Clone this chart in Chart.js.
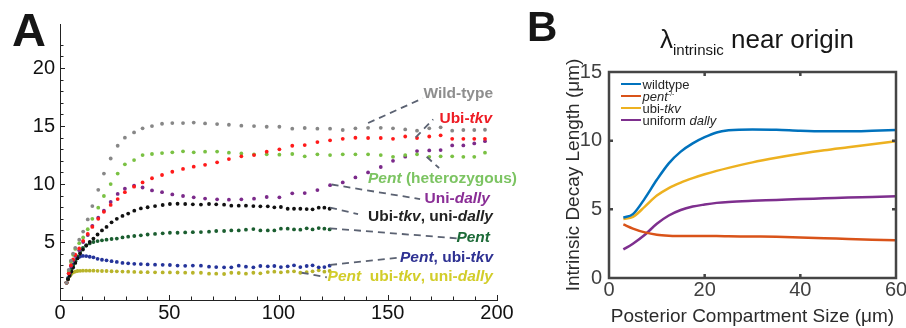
<!DOCTYPE html>
<html>
<head>
<meta charset="utf-8">
<script src="https://cdn.jsdelivr.net/npm/chart.js@4.4.1/dist/chart.umd.min.js"></script>
<style>
  html, body { margin: 0; padding: 0; background: #fff; }
  body { width: 906px; height: 328px; position: relative; overflow: hidden;
         font-family: "Liberation Sans", Arial, sans-serif; }
  #wrapA { position: absolute; left: 0; top: 0; width: 520px; height: 328px; }
  #wrapB { position: absolute; left: 530px; top: 0; width: 376px; height: 328px; }
  .panel { position: absolute; font-weight: bold; color: #161616; }
  .lbl { position: absolute; font-weight: bold; font-size: 15.5px; line-height: 15.5px; white-space: nowrap; }
  #titleB { position: absolute; left: 660px; top: 26px; font-size: 26px; line-height: 26px; color: #161616; white-space: nowrap; }
  #titleB .sub { font-size: 15px; position: relative; top: 7px; }
  #legendB { position: absolute; left: 621px; top: 78px; font-size: 13px; color: #262626; }
  #legendB .row { height: 12px; display: flex; align-items: center; white-space: nowrap; }
  #legendB .sw { width: 20px; height: 2.5px; margin-right: 1.5px; }
  #legendB sup { font-size: 7px; vertical-align: 5px; }
</style>
</head>
<body>
<div id="wrapA"><canvas id="chartA" width="520" height="328"></canvas></div>
<div id="wrapB"><canvas id="chartB" width="376" height="328"></canvas></div>

<div class="panel" style="left:12px; top:6px; font-size:47px; line-height:47px;">A</div>
<div class="panel" style="left:527px; top:6px; font-size:42px; line-height:42px;">B</div>

<div class="lbl" style="right:413px; top:85px; color:#8e8e8e;">Wild-type</div>
<div class="lbl" style="right:414px; top:110px; color:#ee1c24;">Ubi-<i>tkv</i></div>
<div class="lbl" style="left:368px; top:170px; color:#7cc462;"><i>Pent</i> (heterozygous)</div>
<div class="lbl" style="right:416px; top:190px; color:#8a2e96;">Uni-<i>dally</i></div>
<div class="lbl" style="right:413px; top:208px; color:#222;">Ubi-<i>tkv</i>, uni-<i>dally</i></div>
<div class="lbl" style="right:416px; top:229px; color:#1d6b38;"><i>Pent</i></div>
<div class="lbl" style="right:413px; top:249px; color:#2e3192;"><i>Pent</i>, ubi-<i>tkv</i></div>
<div class="lbl" style="right:413px; top:268px; color:#d2cd2a;"><i>Pent</i>&nbsp; ubi-<i>tkv</i>, uni-<i>dally</i></div>

<div id="titleB">λ<span class="sub">intrinsic</span> near origin</div>
<div id="legendB"></div>

<script>
// ---- panel A: decay length vs compartment size (dots) ----
const xA = [3, 4, 5, 6, 7, 8.8, 10.6, 12.7, 14.8, 17.5, 20.1, 23.2, 26.4, 29.7, 33.9, 37.8, 42.1, 46.7,
  51.4, 56.3, 61.2, 66.4, 71.9, 77.3, 83, 88.8, 94.6, 100.4, 106.3, 112, 117.8, 123.6, 129.4, 135.2,
  141, 146.8, 152.4, 158, 163.4, 169, 174.2, 179.5, 184.6, 189.6, 194.5];
const wildType = [1.5, 2.6, 3.4, 4.0, 4.5, 5.2, 5.9, 6.95, 8.1, 9.5, 10.9, 12.2, 13.3, 14.0, 14.45, 14.8,
  15.0, 15.2, 15.26, 15.26, 15.3, 15.23, 15.17, 15.11, 15.03, 15.0, 14.94, 14.94, 14.77, 14.83, 14.77,
  14.77, 14.66, 14.8, 14.85, 14.85, 14.8, 14.71, 14.6, 14.8, 14.89, 14.6, 14.66, 14.66, 14.68];
const ubiTkv = [1.5, 2.3, 3.0, 3.5, 3.9, 4.45, 5.1, 5.7, 6.3, 7.0, 7.6, 8.2, 8.7, 9.3, 9.77, 10.14,
  10.5, 10.78, 11.06, 11.3, 11.5, 11.66, 11.87, 12.15, 12.39, 12.5, 12.79, 12.99, 13.3, 13.36, 13.62,
  13.77, 13.9, 13.99, 13.97, 13.97, 13.9, 14.1, 13.97, 14.1, 14.2, 13.9, 13.9, 13.9, 13.9];
const pentHet = [1.5, 2.5, 3.3, 3.9, 4.4, 4.9, 5.4, 6.1, 7.0, 7.96, 8.97, 10.0, 10.9, 11.7, 12.07, 12.5,
  12.59, 12.67, 12.73, 12.82, 12.73, 12.79, 12.8, 12.7, 12.64, 12.56, 12.56, 12.53, 12.59, 12.39, 12.56,
  12.5, 12.56, 12.56, 12.56, 12.5, 12.35, 12.5, 12.56, 12.35, 12.39, 12.39, 12.35, 12.35, 12.7];
const uniDally = [1.5, 2.3, 2.9, 3.4, 3.8, 4.3, 5.0, 5.6, 6.4, 7.1, 7.7, 8.45, 9.15, 9.6, 9.85, 9.7,
  9.45, 9.3, 9.1, 8.97, 8.85, 8.75, 8.68, 8.65, 8.68, 8.74, 8.88, 8.85, 9.2, 9.22, 9.48, 9.9, 10.14,
  10.57, 11.0, 11.47, 12.0, 12.36, 12.84, 12.9, 12.93, 13.33, 13.33, 13.5, 13.7];

const xB = [3, 3.7, 4.4, 5.2, 6, 7, 8, 9.2, 10.5, 12, 13.6, 15.3, 17.2, 19.2, 21.3, 23.6, 26, 28.6,
  31.2, 34, 37, 40.1, 43.5, 47, 50.3, 53.8, 57.3, 60.8, 64.5, 68.2, 71.5, 75.1, 78.4, 81.8, 85.1, 88.5,
  91.7, 95.1, 98.1, 101.1, 104.2, 107.1, 110, 112.9, 115.6, 118.4, 121, 123.4];
const tkvDally = [1.5, 1.8, 2.1, 2.45, 2.8, 3.2, 3.6, 4.0, 4.35, 4.7, 5.0, 5.3, 5.65, 6.0, 6.3, 6.7,
  7.0, 7.25, 7.45, 7.7, 7.9, 8.0, 8.1, 8.19, 8.28, 8.3, 8.28, 8.25, 8.23, 8.28, 8.25, 8.22, 8.13, 8.13,
  8.13, 8.1, 8.08, 8.08, 7.99, 8.02, 7.87, 7.87, 7.87, 7.84, 7.82, 7.96, 7.96, 7.87];
const pent = [1.5, 1.85, 2.2, 2.6, 2.95, 3.35, 3.75, 4.15, 4.5, 4.7, 4.88, 5.0, 5.08, 5.15, 5.2, 5.26,
  5.3, 5.4, 5.46, 5.52, 5.58, 5.65, 5.7, 5.75, 5.8, 5.8, 5.83, 5.85, 5.86, 5.89, 5.95, 5.95, 6.0, 6.0,
  6.06, 6.12, 6.0, 6.0, 6.0, 6.15, 6.15, 6.09, 6.06, 6.18, 6.09, 6.2, 6.15, 6.09];
const pentTkv = [1.5, 1.9, 2.3, 2.7, 3.05, 3.35, 3.6, 3.75, 3.8, 3.79, 3.73, 3.68, 3.55, 3.47, 3.42,
  3.35, 3.28, 3.2, 3.16, 3.12, 3.1, 3.07, 3.05, 3.03, 3.02, 2.97, 2.95, 2.97, 2.96, 2.87, 2.84, 2.82,
  2.82, 2.96, 2.87, 2.82, 2.93, 2.9, 2.93, 2.84, 2.9, 2.99, 2.84, 2.93, 2.99, 2.82, 2.84, 2.96];
const pentTkvDally = [1.5, 1.8, 2.05, 2.25, 2.38, 2.45, 2.5, 2.52, 2.53, 2.53, 2.53, 2.53, 2.52, 2.5,
  2.5, 2.48, 2.47, 2.45, 2.44, 2.42, 2.4, 2.4, 2.39, 2.38, 2.38, 2.37, 2.36, 2.35, 2.35, 2.27, 2.27,
  2.24, 2.35, 2.33, 2.27, 2.35, 2.3, 2.41, 2.44, 2.39, 2.44, 2.47, 2.35, 2.41, 2.47, 2.56, 2.44, 2.5];

// leader lines (data units): dot -> label
const leaderFrom = [[141, 15.26], [162.8, 14.03], [167.8, 12.35], [124.3, 9.96], [123.6, 7.97], [123.6, 6.18], [123.6, 3.02], [110.6, 2.35]];
const leaderTo = [[166.1, 17.4], [170.8, 15.58], [173.5, 11.38], [164.8, 8.7], [136.4, 7.41], [181.6, 5.32], [156.4, 3.68], [122.1, 1.96]];

// ---- panel B: smooth lines ----
const sizeB = [3, 5, 7.5, 10, 12.5, 15, 17.5, 20, 22.5, 25, 30, 35, 40, 45, 50, 55, 60];
const wildtypeB = [4.4, 4.65, 5.8, 7.15, 8.35, 9.2, 9.8, 10.25, 10.6, 10.75, 10.82, 10.8, 10.72, 10.68, 10.68, 10.72, 10.78];
const pentB = [3.9, 3.6, 3.32, 3.15, 3.08, 3.06, 3.05, 3.05, 3.05, 3.04, 3.02, 3.0, 2.95, 2.9, 2.84, 2.79, 2.74];
const ubiTkvB = [4.3, 4.45, 5.2, 6.0, 6.55, 6.95, 7.27, 7.55, 7.8, 8.02, 8.42, 8.75, 9.04, 9.3, 9.52, 9.74, 9.95];
const dallyB = [2.08, 2.5, 3.15, 3.95, 4.55, 4.95, 5.2, 5.35, 5.47, 5.54, 5.62, 5.68, 5.75, 5.8, 5.86, 5.9, 5.95];
const namesB = ['wildtype', '<i>pent</i><sup>-/-</sup>', 'ubi-<i>tkv</i>', 'uniform <i>dally</i>'];
const colorsB = ['#0072bd', '#d95319', '#edb120', '#7e2f8e'];

Chart.defaults.font.family = '"Liberation Sans", Arial, sans-serif';

function pts(xs, ys) {
  return ys.map((v, i) => ({ x: xs[i], y: v }));
}

const dotSeries = [
  [xA, wildType, '#878787'],
  [xA, ubiTkv, '#ff1a1a'],
  [xA, pentHet, '#7ac143'],
  [xA, uniDally, '#7b2a8a'],
  [xB, tkvDally, '#111111'],
  [xB, pent, '#1b5e30'],
  [xB, pentTkv, '#25349a'],
  [xB, pentTkvDally, '#b8b42a']
];

const inTicksA = {
  id: 'inTicksA',
  afterDraw(chart) {
    const { ctx, chartArea: a, scales: { x, y } } = chart;
    ctx.save();
    ctx.strokeStyle = '#222';
    ctx.lineWidth = 1;
    ctx.beginPath();
    y.ticks.forEach(t => {
      if (!Number.isInteger(t.value) || t.value <= 0) return;
      const p = Math.round(y.getPixelForValue(t.value)) + 0.5;
      const len = t.value % 5 === 0 ? 5 : 3.5;
      ctx.moveTo(a.left, p); ctx.lineTo(a.left + len, p);
    });
    x.ticks.forEach(t => {
      if (t.value <= 0) return;
      const p = Math.round(x.getPixelForValue(t.value)) + 0.5;
      const len = t.value % 50 === 0 ? 5 : 3.5;
      ctx.moveTo(p, a.bottom); ctx.lineTo(p, a.bottom - len);
    });
    ctx.stroke();
    ctx.restore();
  }
};

const leadersA = {
  id: 'leadersA',
  afterDatasetsDraw(chart) {
    const { ctx, scales: { x, y } } = chart;
    ctx.save();
    ctx.strokeStyle = '#5b6272';
    ctx.lineWidth = 1.8;
    ctx.setLineDash([7, 5]);
    leaderFrom.forEach((f, i) => {
      const t = leaderTo[i];
      ctx.beginPath();
      ctx.moveTo(x.getPixelForValue(f[0]), y.getPixelForValue(f[1]));
      ctx.lineTo(x.getPixelForValue(t[0]), y.getPixelForValue(t[1]));
      ctx.stroke();
    });
    ctx.restore();
  }
};

new Chart(document.getElementById('chartA'), {
  type: 'scatter',
  data: {
    datasets: dotSeries.map(([xs, ys, c]) => ({
      data: pts(xs, ys),
      pointRadius: 1.9,
      pointBorderWidth: 0,
      pointBackgroundColor: c,
      showLine: false
    }))
  },
  options: {
    responsive: false,
    animation: false,
    devicePixelRatio: 1,
    layout: { autoPadding: false, padding: { left: 0, right: 23, top: 24, bottom: 0 } },
    plugins: { legend: { display: false }, tooltip: { enabled: false } },
    scales: {
      x: {
        type: 'linear', min: 0, max: 200,
        afterFit: s => { s.height = 28; s.paddingLeft = 0; s.paddingRight = 0; },
        grid: { display: true, drawOnChartArea: false, drawTicks: false },
        border: { color: '#222', width: 1 },
        ticks: { stepSize: 10, autoSkip: false, maxRotation: 0, padding: 1, color: '#111',
                 font: { size: 20 }, callback: v => (v % 50 === 0 ? v : '') }
      },
      y: {
        min: 0, max: 23.8,
        afterFit: s => { s.width = 60; s.paddingTop = 0; s.paddingBottom = 0; },
        grid: { display: true, drawOnChartArea: false, drawTicks: false },
        border: { color: '#222', width: 1 },
        ticks: { stepSize: 1, autoSkip: false, padding: 5, color: '#111',
                 font: { size: 20 }, callback: v => (v > 0 && v % 5 === 0 ? v : '') }
      }
    }
  },
  plugins: [inTicksA, leadersA]
});

const frameB = {
  id: 'frameB',
  afterDraw(chart) {
    const { ctx, chartArea: a, scales: { x, y } } = chart;
    ctx.save();
    ctx.strokeStyle = '#454545';
    ctx.lineWidth = 2.5;
    ctx.strokeRect(a.left, a.top, a.right - a.left, a.bottom - a.top);
    ctx.beginPath();
    x.ticks.forEach(t => {
      if (t.value <= x.min || t.value >= x.max) return;
      const p = x.getPixelForValue(t.value);
      ctx.moveTo(p, a.bottom); ctx.lineTo(p, a.bottom - 4);
      ctx.moveTo(p, a.top); ctx.lineTo(p, a.top + 4);
    });
    y.ticks.forEach(t => {
      if (t.value <= y.min || t.value >= y.max) return;
      const p = y.getPixelForValue(t.value);
      ctx.moveTo(a.left, p); ctx.lineTo(a.left + 4, p);
      ctx.moveTo(a.right, p); ctx.lineTo(a.right - 4, p);
    });
    ctx.stroke();
    ctx.restore();
  }
};

const seriesB = [wildtypeB, pentB, ubiTkvB, dallyB];

new Chart(document.getElementById('chartB'), {
  type: 'line',
  data: {
    datasets: seriesB.map((ys, i) => ({
      data: pts(sizeB, ys),
      borderColor: colorsB[i],
      backgroundColor: colorsB[i],
      borderWidth: 2.5,
      pointRadius: 0,
      cubicInterpolationMode: 'monotone',
      fill: false
    }))
  },
  options: {
    responsive: false,
    animation: false,
    devicePixelRatio: 1,
    layout: { autoPadding: false, padding: { left: 0, right: 10, top: 72, bottom: 0 } },
    plugins: { legend: { display: false }, tooltip: { enabled: false } },
    scales: {
      x: {
        type: 'linear', min: 0, max: 60,
        afterFit: s => { s.height = 50; s.paddingLeft = 0; s.paddingRight = 0; },
        grid: { display: false, drawTicks: false },
        border: { display: false },
        ticks: { stepSize: 20, padding: 0, color: '#404040', font: { size: 20 } },
        title: { display: true, text: 'Posterior Compartment Size (μm)', color: '#2b2b2b',
                 font: { size: 19 }, padding: { top: 0, bottom: 0 } }
      },
      y: {
        min: 0, max: 15,
        afterFit: s => { s.width = 79; s.paddingTop = 0; s.paddingBottom = 0; },
        grid: { display: false, drawTicks: false },
        border: { display: false },
        ticks: { stepSize: 5, padding: 7, color: '#404040', font: { size: 20 } },
        title: { display: true, text: 'Intrinsic Decay Length (μm)', color: '#2b2b2b',
                 font: { size: 19 }, padding: { top: 32, bottom: 0 } }
      }
    }
  },
  plugins: [frameB]
});

// legend for panel B (italic gene names need html)
const legendB = document.getElementById('legendB');
namesB.forEach((n, i) => {
  const row = document.createElement('div');
  row.className = 'row';
  row.innerHTML = '<span class="sw" style="background:' + colorsB[i] + '"></span><span>' + n + '</span>';
  legendB.appendChild(row);
});
</script>
</body>
</html>
